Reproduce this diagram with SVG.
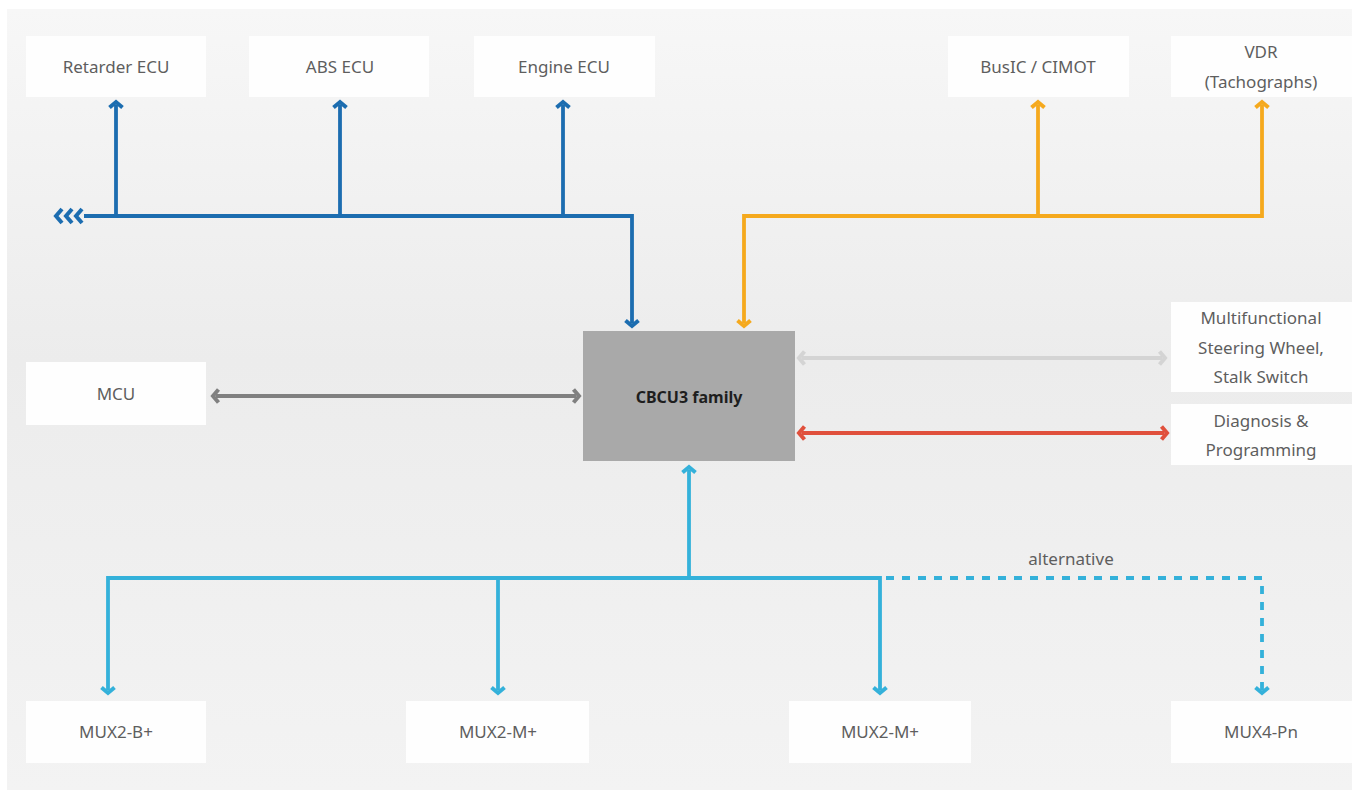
<svg xmlns="http://www.w3.org/2000/svg" width="1359" height="796" viewBox="0 0 1359 796">
<style>
.box{fill:#fefefe;}
.lbl{font-family:"Noto Sans","Liberation Sans",sans-serif;font-size:17px;fill:#5e5e5e;text-anchor:middle;}
.bold{font-family:"Noto Sans","Liberation Sans",sans-serif;font-size:16px;font-weight:bold;fill:#1e1e1e;text-anchor:middle;}
.ln{fill:none;stroke-width:3.8;}
.blue{stroke:#1c6db0;}
.orange{stroke:#f5a91d;}
.gray{stroke:#808080;}
.lgray{stroke:#d4d4d4;}
.red{stroke:#e0503c;}
.lblue{stroke:#34b1da;}
.hd{fill:none;stroke-width:4;stroke-linejoin:miter;}
</style>
<defs>
<linearGradient id="bg" x1="0" y1="0" x2="0" y2="1">
<stop offset="0" stop-color="#f7f7f7"/>
<stop offset="0.45" stop-color="#ececec"/>
<stop offset="1" stop-color="#f3f3f3"/>
</linearGradient>
<marker id="mBlue" markerUnits="userSpaceOnUse" markerWidth="24" markerHeight="24" viewBox="-12 -12 24 24" refX="-3" refY="0" orient="auto-start-reverse" overflow="visible"><path class="hd" d="M-5.5,-6.5 L0,0 L-5.5,6.5" stroke="#1c6db0"/></marker>
<marker id="mOrange" markerUnits="userSpaceOnUse" markerWidth="24" markerHeight="24" viewBox="-12 -12 24 24" refX="-3" refY="0" orient="auto-start-reverse" overflow="visible"><path class="hd" d="M-5.5,-6.5 L0,0 L-5.5,6.5" stroke="#f5a91d"/></marker>
<marker id="mGray" markerUnits="userSpaceOnUse" markerWidth="24" markerHeight="24" viewBox="-12 -12 24 24" refX="-3" refY="0" orient="auto-start-reverse" overflow="visible"><path class="hd" d="M-5.5,-6.5 L0,0 L-5.5,6.5" stroke="#808080"/></marker>
<marker id="mLgray" markerUnits="userSpaceOnUse" markerWidth="24" markerHeight="24" viewBox="-12 -12 24 24" refX="-3" refY="0" orient="auto-start-reverse" overflow="visible"><path class="hd" d="M-5.5,-6.5 L0,0 L-5.5,6.5" stroke="#d4d4d4"/></marker>
<marker id="mRed" markerUnits="userSpaceOnUse" markerWidth="24" markerHeight="24" viewBox="-12 -12 24 24" refX="-3" refY="0" orient="auto-start-reverse" overflow="visible"><path class="hd" d="M-5.5,-6.5 L0,0 L-5.5,6.5" stroke="#e0503c"/></marker>
<marker id="mLblue" markerUnits="userSpaceOnUse" markerWidth="24" markerHeight="24" viewBox="-12 -12 24 24" refX="-3" refY="0" orient="auto-start-reverse" overflow="visible"><path class="hd" d="M-5.5,-6.5 L0,0 L-5.5,6.5" stroke="#34b1da"/></marker>
</defs>
<rect x="0" y="0" width="1359" height="796" fill="#ffffff"/>
<rect x="7" y="9" width="1345" height="781" fill="url(#bg)"/>

<g id="connectors">
<path class="ln blue" d="M84,216 H632 V323" marker-end="url(#mBlue)"/>
<path class="hd blue" d="M62,209 L56,216 L62,223 M72,209 L66,216 L72,223 M82,209 L76,216 L82,223"/>
<path class="ln blue" d="M116,216 V105" marker-end="url(#mBlue)"/>
<path class="ln blue" d="M340,216 V105" marker-end="url(#mBlue)"/>
<path class="ln blue" d="M563,216 V105" marker-end="url(#mBlue)"/>
<path class="ln orange" d="M1262,105 V216 H744 V323" marker-start="url(#mOrange)" marker-end="url(#mOrange)"/>
<path class="ln orange" d="M1038,216 V105" marker-end="url(#mOrange)"/>
<path class="ln gray" d="M216,396 H576" marker-start="url(#mGray)" marker-end="url(#mGray)"/>
<path class="ln lgray" d="M802,358 H1162" marker-start="url(#mLgray)" marker-end="url(#mLgray)"/>
<path class="ln red" d="M802,433 H1164" marker-start="url(#mRed)" marker-end="url(#mRed)"/>
<path class="ln lblue" d="M689,578 V470" marker-end="url(#mLblue)"/>
<path class="ln lblue" d="M108,690 V578 H880 V690" marker-start="url(#mLblue)" marker-end="url(#mLblue)"/>
<path class="ln lblue" d="M498,578 V690" marker-end="url(#mLblue)"/>
<path class="ln lblue" d="M886,578 H1262 V690" stroke-dasharray="8,8" marker-end="url(#mLblue)"/>
<text class="lbl" x="1071" y="565" font-size="16">alternative</text>
</g>

<g id="retarder"><rect class="box" x="26" y="36" width="180" height="61"/><text class="lbl" x="116" y="73">Retarder ECU</text></g>
<g id="abs"><rect class="box" x="249" y="36" width="180" height="61"/><text class="lbl" x="340" y="73">ABS ECU</text></g>
<g id="engine"><rect class="box" x="474" y="36" width="181" height="61"/><text class="lbl" x="564" y="73">Engine ECU</text></g>
<g id="busic"><rect class="box" x="948" y="36" width="181" height="61"/><text class="lbl" x="1038" y="73">BusIC / CIMOT</text></g>
<g id="vdr"><rect class="box" x="1171" y="36" width="181" height="61"/><text class="lbl" x="1261" y="58">VDR</text><text class="lbl" x="1261" y="88">(Tachographs)</text></g>
<g id="cbcu"><rect x="583" y="331" width="212" height="130" fill="#a9a9a9"/><text class="bold" x="689" y="403">CBCU3 family</text></g>
<g id="mcu"><rect class="box" x="26" y="362" width="180" height="63"/><text class="lbl" x="116" y="400">MCU</text></g>
<g id="msw"><rect class="box" x="1171" y="302" width="181" height="90"/><text class="lbl" x="1261" y="324">Multifunctional</text><text class="lbl" x="1261" y="354">Steering Wheel,</text><text class="lbl" x="1261" y="383">Stalk Switch</text></g>
<g id="diag"><rect class="box" x="1171" y="404" width="181" height="61"/><text class="lbl" x="1261" y="427">Diagnosis &amp;</text><text class="lbl" x="1261" y="456">Programming</text></g>
<g id="mux2b"><rect class="box" x="26" y="701" width="180" height="62"/><text class="lbl" x="116" y="738">MUX2-B+</text></g>
<g id="mux2m1"><rect class="box" x="406" y="701" width="183" height="62"/><text class="lbl" x="498" y="738">MUX2-M+</text></g>
<g id="mux2m2"><rect class="box" x="789" y="701" width="182" height="62"/><text class="lbl" x="880" y="738">MUX2-M+</text></g>
<g id="mux4"><rect class="box" x="1171" y="701" width="181" height="62"/><text class="lbl" x="1261" y="738">MUX4-Pn</text></g>
</svg>
